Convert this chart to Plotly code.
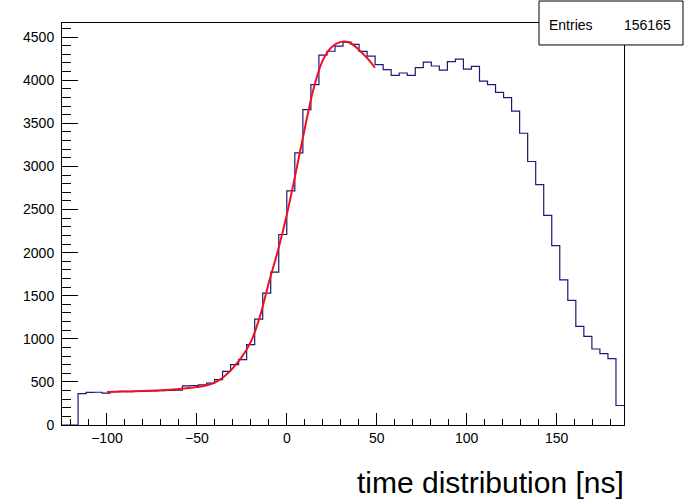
import plotly.graph_objects as go

# ---- data ----
x_lo, x_hi, n_bins = -125.0, 187.5, 70
counts = [0, 0,
          365, 378, 380, 370, 388, 390, 386, 390, 392, 395, 398, 400, 405,
          455, 458, 465, 485, 527, 623, 700, 758, 932, 1229, 1530, 1773, 2210,
          2716, 3158, 3659, 3950, 4292, 4336, 4395, 4442, 4415, 4335, 4280, 4180,
          4122, 4057, 4084, 4057, 4146, 4211, 4165, 4118, 4215, 4246, 4130, 4161,
          3989, 3949, 3860, 3799, 3642, 3385, 3057, 2788, 2432, 2081, 1684, 1445,
          1144, 1028, 882, 828, 770, 226]
fit_x = [-100, -90, -80, -70, -60, -50, -45, -40, -35, -30, -25, -20, -15, -10,
         -5, 0, 5, 10, 15, 20, 25, 30, 35, 40, 45, 49]
fit_y = [384, 389, 395, 402, 417, 440, 458, 492, 560, 660, 790, 965, 1255, 1650,
         2020, 2440, 2930, 3440, 3910, 4230, 4385, 4445, 4435, 4355, 4250, 4145]
entries_label = "Entries"
entries_value = "156165"
x_title = "time distribution [ns]"

bw = (x_hi - x_lo) / n_bins
edges = [x_lo + i * bw for i in range(n_bins + 1)]

fig = go.Figure()
fig.add_trace(go.Scatter(
    x=edges, y=counts + [counts[-1]], mode="lines",
    line=dict(shape="hv", color="#1a1a78", width=1.2),
    hoverinfo="skip", showlegend=False))
fig.add_trace(go.Scatter(
    x=fit_x, y=fit_y, mode="lines",
    line=dict(shape="spline", color="#ee1122", width=2),
    hoverinfo="skip", showlegend=False))

W, H = 684, 501
L, R, T, B = 62, 60, 23, 75.5
pw, ph = W - L - R, H - T - B

def px(xp):
    return (xp - L) / pw

def py(yp):
    return (H - B - yp) / ph

font = "Liberation Sans, Arial, Helvetica, sans-serif"
fig.update_layout(
    width=W, height=H,
    margin=dict(l=L, r=R, t=T, b=B, pad=0),
    paper_bgcolor="white", plot_bgcolor="white",
    font=dict(family=font, color="black", size=13),
    xaxis=dict(range=[x_lo, x_hi], showgrid=False, zeroline=False,
               showline=True, linecolor="black", linewidth=1, mirror=True,
               ticks="inside", ticklen=12, tickwidth=1, tickcolor="black",
               dtick=50, tick0=0,
               minor=dict(ticks="inside", ticklen=6, dtick=10, tick0=0,
                          tickcolor="black", tickwidth=1),
               tickfont=dict(size=14)),
    yaxis=dict(range=[0, 4664], showgrid=False, zeroline=False,
               showline=True, linecolor="black", linewidth=1, mirror=True,
               ticks="inside", ticklen=16, tickwidth=1, tickcolor="black",
               dtick=500, tick0=0,
               minor=dict(ticks="inside", ticklen=9, dtick=100, tick0=0,
                          tickcolor="black", tickwidth=1),
               tickfont=dict(size=14), ticklabelstandoff=4),
    shapes=[dict(type="rect", xref="paper", yref="paper",
                 x0=px(539), x1=px(683), y0=py(45), y1=py(1),
                 line=dict(color="black", width=1), fillcolor="white",
                 layer="above")],
    annotations=[
        dict(text=entries_label, xref="paper", yref="paper", x=px(547), y=py(25),
             xanchor="left", yanchor="middle", showarrow=False,
             font=dict(size=14)),
        dict(text=entries_value, xref="paper", yref="paper", x=px(673), y=py(25),
             xanchor="right", yanchor="middle", showarrow=False,
             font=dict(size=14)),
        dict(text=x_title, xref="paper", yref="paper", x=px(626), y=py(483),
             xanchor="right", yanchor="middle", showarrow=False,
             font=dict(size=30)),
    ],
)

fig.write_html("out.html")
